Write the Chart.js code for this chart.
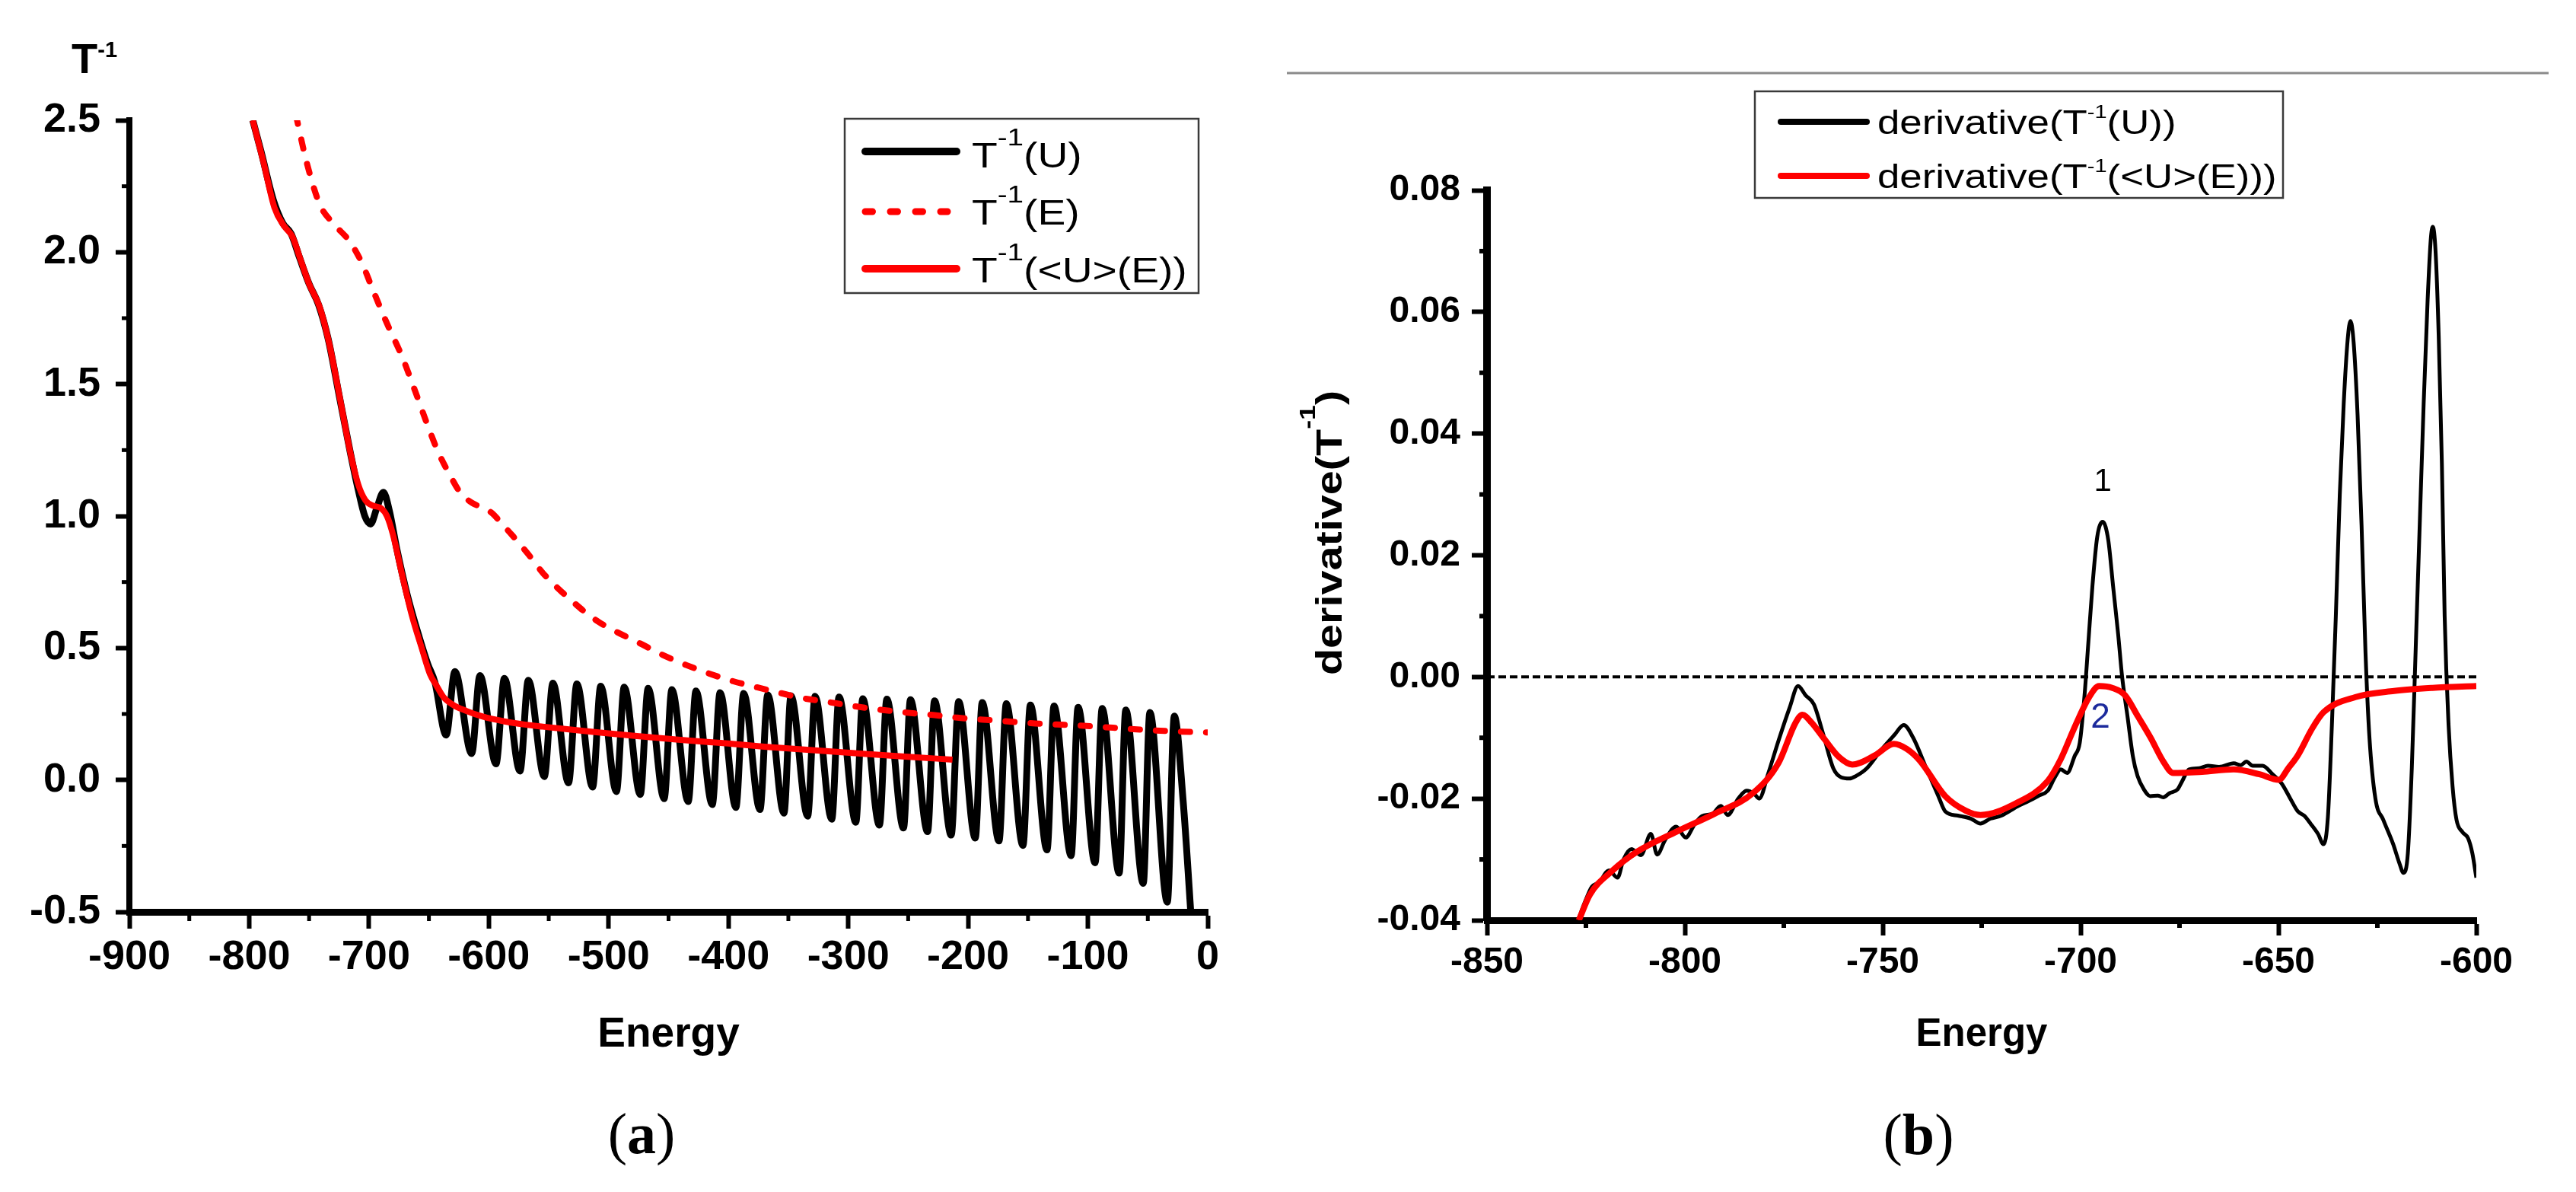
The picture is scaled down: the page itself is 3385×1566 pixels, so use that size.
<!DOCTYPE html>
<html><head><meta charset="utf-8">
<script src="https://cdn.jsdelivr.net/npm/chart.js@4.4.1/dist/chart.umd.min.js"></script>
<style>
html,body{margin:0;padding:0;background:#fff;width:3385px;height:1566px;overflow:hidden}
canvas{position:absolute;top:0}
#ca{left:0}
#cb{left:1690px}
</style></head><body>
<canvas id="ca" width="1690" height="1566"></canvas>
<canvas id="cb" width="1695" height="1566"></canvas>
<script>
// ---------- DATA (Energy, value) ----------
// panel (a): T^-1(U)  (black)
const tInvU = [
[-797,2.50],[-790,2.38],[-780,2.20],[-772,2.11],[-765,2.07],[-758,1.98],[-750,1.88],[-742,1.80],[-734,1.67],[-725,1.46],[-716,1.25],[-709,1.10],[-703.5,1.00],[-698.7,0.97],[-693.5,1.03],[-688,1.09],[-683,1.02],[-677,0.88],[-668,0.70],[-658,0.54],[-651,0.44],[-645,0.37],
[-635.6,0.17],[-628.3,0.411],[-614.3,0.100],[-607.4,0.396],[-594,0.061],[-587,0.385],[-574,0.034],[-567,0.378],[-553.7,0.013],[-546.5,0.367],[-533.5,-0.011],[-526.5,0.364],[-513.4,-0.027],[-506.6,0.355],[-493.5,-0.044],[-487,0.352],[-473.6,-0.055],[-467,0.347],[-453.7,-0.071],[-447.2,0.342],[-433.6,-0.082],[-427.1,0.337],[-413.5,-0.093],[-407,0.331],[-393.8,-0.104],[-387.3,0.328],[-373.7,-0.112],[-367.2,0.323],[-353.7,-0.126],[-347.8,0.319],[-333.9,-0.137],[-327.7,0.317],[-313.8,-0.149],[-307.7,0.314],[-293.7,-0.160],[-287.9,0.308],[-274,-0.171],[-267.8,0.306],[-253.9,-0.182],[-248.1,0.304],[-233.8,-0.196],[-228,0.300],[-214.1,-0.209],[-207.9,0.297],[-194,-0.220],[-188.2,0.293],[-174.2,-0.231],[-168.1,0.289],[-154.2,-0.248],[-148,0.284],[-134.1,-0.265],[-128.3,0.280],[-114,-0.287],[-108.2,0.275],[-94,-0.314],[-88.1,0.271],[-73.9,-0.353],[-68.4,0.265],[-53.8,-0.392],[-48.3,0.256],[-33.7,-0.463],[-27.9,0.242],[-20.5,-0.08],[-13,-0.58]
];
// panel (a): T^-1(E)  (red dashed)
const tInvE = [
[-761,2.52],[-752,2.34],[-741,2.18],[-730,2.11],[-716,2.04],[-706,1.96],[-697,1.86],[-685,1.73],[-672,1.60],[-662,1.48],[-652,1.355],[-642,1.24],[-633,1.16],[-624,1.09],[-614,1.05],[-604,1.03],[-597,1.01],[-589,0.97],[-580,0.925],[-567,0.855],[-555,0.785],[-542,0.725],[-529,0.672],[-518,0.63],[-508,0.598],[-495,0.565],[-474,0.518],[-455,0.474],[-435,0.435],[-416,0.403],[-396,0.374],[-377,0.352],[-358,0.331],[-338,0.31],[-319,0.297],[-296,0.28],[-273,0.266],[-251,0.255],[-231,0.247],[-209,0.236],[-176,0.225],[-144,0.214],[-111,0.207],[-79,0.198],[-47,0.188],[-8,0.181],[0,0.18]
];
// panel (a): T^-1(<U>(E))  (red solid)
const tInvAvg = [
[-797,2.50],[-788,2.34],[-779,2.17],[-771,2.10],[-764,2.06],[-757,1.97],[-750,1.88],[-741,1.79],[-733,1.65],[-724,1.44],[-716,1.25],[-709,1.12],[-703,1.06],[-697,1.04],[-690,1.03],[-685,1.00],[-680,0.93],[-672,0.77],[-664,0.62],[-656,0.50],[-649,0.40],[-644,0.36],[-638,0.315],[-630,0.285],[-619,0.262],[-605,0.24],[-587,0.222],[-570,0.21],[-555,0.202],[-530,0.19],[-510,0.181],[-480,0.168],[-440,0.152],[-400,0.138],[-370,0.126],[-330,0.113],[-290,0.100],[-250,0.088],[-213,0.077]
];
// panel (b): derivative(T^-1(U))  (black)
const derivU = [
[-827,-0.0400],[-825,-0.0366],[-823.5,-0.0345],[-821.6,-0.0337],[-819.2,-0.0318],[-817,-0.0330],[-815.5,-0.0300],[-813.5,-0.0283],[-811.1,-0.0293],[-808.6,-0.0258],[-807,-0.0292],[-805,-0.0268],[-802.2,-0.0246],[-799.8,-0.0264],[-797.5,-0.0242],[-795.7,-0.0229],[-793,-0.0225],[-790.9,-0.0212],[-789.2,-0.0227],[-786.5,-0.0200],[-784.4,-0.0187],[-782.5,-0.0192],[-781.2,-0.0200],[-779,-0.0160],[-776.3,-0.0104],[-773.5,-0.0050],[-771.4,-0.0015],[-769.5,-0.0030],[-767.4,-0.0045],[-765,-0.0095],[-762.5,-0.0150],[-760.5,-0.0165],[-758.4,-0.0167],[-756.8,-0.0163],[-754,-0.0150],[-750.4,-0.0120],[-747,-0.0095],[-744.7,-0.0079],[-742.3,-0.0100],[-739,-0.0150],[-736,-0.0195],[-734.2,-0.0221],[-731,-0.0228],[-727.7,-0.0233],[-725.3,-0.0241],[-722.8,-0.0233],[-720,-0.0228],[-716,-0.0213],[-713.1,-0.0204],[-710.5,-0.0195],[-708.3,-0.0187],[-706.5,-0.0165],[-705,-0.0152],[-703.4,-0.0158],[-701.5,-0.0130],[-700.2,-0.0108],[-699,-0.0030],[-698,0.0060],[-697,0.0150],[-695.8,0.0230],[-694.4,0.0255],[-693,0.0225],[-691.8,0.0150],[-690.5,0.0070],[-689.5,0.0000],[-688.1,-0.0067],[-686.8,-0.0130],[-685.6,-0.0163],[-684,-0.0185],[-682.4,-0.0196],[-680.5,-0.0195],[-679.1,-0.0198],[-677.5,-0.0191],[-675.5,-0.0185],[-674.3,-0.0171],[-672.6,-0.0152],[-670,-0.0150],[-667.8,-0.0146],[-665,-0.0148],[-661.3,-0.0142],[-659.5,-0.0145],[-658.1,-0.0139],[-656.5,-0.0146],[-654,-0.0146],[-651.5,-0.0160],[-649.2,-0.0175],[-647,-0.0200],[-645.1,-0.0221],[-643.5,-0.0228],[-641.9,-0.0241],[-640,-0.0258],[-638.6,-0.0275],[-637.5,-0.0230],[-636.5,-0.0080],[-635.5,0.0100],[-634.5,0.0300],[-633.5,0.0450],[-632.5,0.0555],[-631.8,0.0585],[-631,0.0550],[-630,0.0430],[-629,0.0250],[-628,0.0040],[-627,-0.0100],[-625.5,-0.0200],[-623.5,-0.0235],[-621,-0.0275],[-619.5,-0.0305],[-618.4,-0.0322],[-617.3,-0.0290],[-616.3,-0.0150],[-615.3,0.0050],[-614.3,0.0250],[-613.3,0.0450],[-612.3,0.0620],[-611.5,0.0720],[-611,0.0740],[-610.3,0.0700],[-609.5,0.0560],[-608.7,0.0350],[-608,0.0100],[-607,-0.0080],[-606,-0.0180],[-605,-0.0235],[-603.5,-0.0255],[-602.1,-0.0265],[-601,-0.0290],[-600,-0.0330]
];
// panel (b): derivative(T^-1(<U>(E)))  (red)
const derivAvg = [
[-826.8,-0.0400],[-824,-0.0358],[-818.4,-0.0319],[-812,-0.0287],[-802,-0.0254],[-792.5,-0.0225],[-782.8,-0.0191],[-776.3,-0.0141],[-772,-0.0075],[-770.3,-0.0062],[-768,-0.0075],[-765,-0.0100],[-761,-0.0132],[-757.7,-0.0144],[-752,-0.0129],[-747.2,-0.0110],[-744,-0.0118],[-740.7,-0.0137],[-734.2,-0.0196],[-729,-0.0220],[-725.3,-0.0227],[-716.4,-0.0208],[-708.3,-0.0171],[-705,-0.0135],[-701.8,-0.0087],[-698,-0.0035],[-695.3,-0.0015],[-692,-0.0018],[-688.8,-0.0030],[-685.5,-0.0065],[-682.3,-0.0100],[-679,-0.0140],[-676.6,-0.0158],[-669.3,-0.0156],[-661.3,-0.0152],[-654.8,-0.0160],[-649.9,-0.0169],[-647.5,-0.0150],[-645.1,-0.0129],[-641.5,-0.0085],[-638.6,-0.0058],[-630.5,-0.0033],[-620.8,-0.0023],[-611.1,-0.0018],[-600,-0.0015]
];
// panel (b): zero reference line
const zeroLine = [[-850,0],[-600,0]];
// tick positions
const minorXA = [-850,-750,-650,-550,-450,-350,-250,-150,-50];
const minorYA = [-0.25,0.25,0.75,1.25,1.75,2.25];
const minorXB = [-825,-775,-725,-675,-625];
const minorYB = [-0.03,-0.01,0.01,0.03,0.05,0.07];
// annotations in panel (b)
const peakLabels = [{t:'1', e:-694.4, v:0.0306, color:'#000', size:42},{t:'2', e:-695, v:-0.0083, color:'#1c2a9c', size:46}];

// ---------- helpers ----------
const FONT = "'Liberation Sans', Arial, sans-serif";
const SERIF = "'Liberation Serif', 'Times New Roman', serif";
const toXY = arr => arr.map(p => ({x:p[0], y:p[1]}));

function fontOf(p,o){
  const s = p.sup ? o.size*o.sup : o.size;
  const wt = p.w || o.weight || 'normal';
  return wt + ' ' + s + 'px ' + (o.family || FONT);
}
function rich(ctx, x, y, parts, o){
  ctx.save();
  ctx.translate(x, y);
  if (o.rot) ctx.rotate(o.rot);
  ctx.scale(o.sx || 1, 1);
  ctx.textBaseline = 'alphabetic';
  ctx.textAlign = 'left';
  ctx.fillStyle = o.color || '#000';
  let w = 0;
  for (const p of parts){ ctx.font = fontOf(p,o); w += ctx.measureText(p.t).width; }
  let cx = o.align === 'center' ? -w/2 : 0;
  for (const p of parts){
    ctx.font = fontOf(p,o);
    ctx.fillText(p.t, cx, p.sup ? -o.size*o.rise : 0);
    cx += ctx.measureText(p.t).width;
  }
  ctx.restore();
}
function seg(ctx,x0,y0,x1,y1){ ctx.beginPath(); ctx.moveTo(x0,y0); ctx.lineTo(x1,y1); ctx.stroke(); }
function drawLegend(ctx, L){
  ctx.save();
  ctx.fillStyle = '#fff';
  ctx.fillRect(L.box[0], L.box[1], L.box[2]-L.box[0], L.box[3]-L.box[1]);
  ctx.strokeStyle = '#3a3a3a'; ctx.lineWidth = 2.5;
  ctx.strokeRect(L.box[0], L.box[1], L.box[2]-L.box[0], L.box[3]-L.box[1]);
  for (const it of L.items){
    ctx.strokeStyle = it.color; ctx.lineWidth = it.width; ctx.lineCap = 'round';
    ctx.setLineDash(it.dash || []);
    seg(ctx, it.x0, it.y, it.x1, it.y);
    ctx.setLineDash([]);
    rich(ctx, L.tx, it.base, it.parts, L.font);
  }
  ctx.restore();
}
function axisCommon(min, max, step, fmt, size, pad, tl, bw, fit){
  return {
    type:'linear', min:min, max:max, afterFit: fit,
    ticks:{stepSize:step, autoSkip:false, maxRotation:0, color:'#000', padding:pad,
      font:{family:FONT, weight:'bold', size:size}, callback: fmt},
    grid:{drawOnChartArea:false, drawTicks:true, tickLength:tl, tickWidth:6, tickColor:'#000'},
    border:{display:true, color:'#000', width:bw}
  };
}

// ---------- panel (a) ----------
const decoA = { id:'decoA', afterDraw(chart){
  const ctx = chart.ctx, a = chart.chartArea, xs = chart.scales.x, ys = chart.scales.y;
  ctx.save();
  ctx.strokeStyle = '#000'; ctx.lineWidth = 5; ctx.lineCap = 'butt';
  for (const v of minorXA){ const x = xs.getPixelForValue(v); seg(ctx, x, a.bottom, x, a.bottom+12); }
  for (const v of minorYA){ const y = ys.getPixelForValue(v); seg(ctx, a.left-10, y, a.left, y); }
  rich(ctx, 94, 96, [{t:'T'},{t:'-1',sup:true}], {size:56, weight:'bold', sup:0.52, rise:0.375});
  ctx.fillStyle = '#000'; ctx.textAlign = 'center'; ctx.textBaseline = 'alphabetic';
  ctx.font = 'bold 55px ' + FONT;
  ctx.fillText('Energy', (a.left+a.right)/2, 1375);
  rich(ctx, 843, 1515, [{t:'('},{t:'a',w:'bold'},{t:')'}], {size:76, family:SERIF, align:'center'});
  drawLegend(ctx, {
    box:[1110,156,1575,385], tx:1277,
    font:{size:46, sup:0.7, rise:0.62, sx:1.2},
    items:[
      {color:'#000', width:10, x0:1137, x1:1257, y:199, base:220, parts:[{t:'T'},{t:'-1',sup:true},{t:'(U)'}]},
      {color:'#ff0000', width:9, dash:[9.5,23.5], x0:1137, x1:1245, y:278, base:295, parts:[{t:'T'},{t:'-1',sup:true},{t:'(E)'}]},
      {color:'#ff0000', width:10, x0:1137, x1:1257, y:353, base:371, parts:[{t:'T'},{t:'-1',sup:true},{t:'(<U>(E))'}]}
    ]});
  ctx.restore();
}};

new Chart(document.getElementById('ca'), {
  type:'scatter',
  data:{datasets:[
    {label:'T-1(<U>(E))', data:toXY(tInvAvg), showLine:true, borderColor:'#ff0000', borderWidth:8, pointRadius:0, cubicInterpolationMode:'monotone', order:1},
    {label:'T-1(E)', data:toXY(tInvE), showLine:true, borderColor:'#ff0000', borderWidth:8, borderDash:[12,21], borderCapStyle:'round', pointRadius:0, cubicInterpolationMode:'monotone', order:2},
    {label:'T-1(U)', data:toXY(tInvU), showLine:true, borderColor:'#000000', borderWidth:9, pointRadius:0, cubicInterpolationMode:'monotone', order:3}
  ]},
  options:{
    responsive:false, devicePixelRatio:1, animation:false, events:[],
    layout:{padding:{left:20, top:158, right:103, bottom:248}},
    plugins:{legend:{display:false}, tooltip:{enabled:false}},
    scales:{
      x: Object.assign(axisCommon(-900, 0, 100, v => String(v), 54, 6, 22, 9, s => { s.height = 120; }), {position:'bottom'}),
      y: Object.assign(axisCommon(-0.5, 2.5, 0.5, v => Number(v).toFixed(1), 54, 20, 18, 8, s => { s.width = 150; }), {position:'left'})
    }
  },
  plugins:[decoA]
});

// ---------- panel (b) ----------
const OFF = 1690;
const decoB = { id:'decoB', afterDraw(chart){
  const ctx = chart.ctx, a = chart.chartArea, xs = chart.scales.x, ys = chart.scales.y;
  ctx.save();
  ctx.strokeStyle = '#000'; ctx.lineWidth = 6; ctx.lineCap = 'butt';
  for (const v of minorXB){ const x = xs.getPixelForValue(v); seg(ctx, x, a.bottom, x, a.bottom+10); }
  for (const v of minorYB){ const y = ys.getPixelForValue(v); seg(ctx, a.left-10, y, a.left, y); }
  // top rule
  ctx.strokeStyle = '#8a8a8a'; ctx.lineWidth = 3;
  seg(ctx, 1691-OFF, 96, 3349-OFF, 96);
  // peak labels
  ctx.textAlign = 'center'; ctx.textBaseline = 'alphabetic';
  for (const p of peakLabels){
    ctx.fillStyle = p.color; ctx.font = p.size + 'px ' + FONT;
    ctx.fillText(p.t, xs.getPixelForValue(p.e), ys.getPixelForValue(p.v));
  }
  ctx.fillStyle = '#000'; ctx.font = 'bold 51px ' + FONT;
  ctx.fillText('Energy', (a.left+a.right)/2, 1374);
  rich(ctx, 2521-OFF, 1516, [{t:'('},{t:'b',w:'bold'},{t:')'}], {size:76, family:SERIF, align:'center'});
  rich(ctx, 1763-OFF, 700, [{t:'derivative(T'},{t:'-1',sup:true},{t:')'}], {size:48, weight:'bold', sup:0.62, rise:0.72, sx:1.2, rot:-Math.PI/2, align:'center'});
  drawLegend(ctx, {
    box:[2306-OFF,120,3000-OFF,260], tx:2467-OFF,
    font:{size:44, sup:0.55, rise:0.47, sx:1.2},
    items:[
      {color:'#000', width:8, x0:2340-OFF, x1:2453-OFF, y:160, base:176, parts:[{t:'derivative(T'},{t:'-1',sup:true},{t:'(U))'}]},
      {color:'#ff0000', width:8, x0:2340-OFF, x1:2453-OFF, y:231, base:247, parts:[{t:'derivative(T'},{t:'-1',sup:true},{t:'(<U>(E)))'}]}
    ]});
  ctx.restore();
}};

new Chart(document.getElementById('cb'), {
  type:'scatter',
  data:{datasets:[
    {label:'derivative(T-1(<U>(E)))', data:toXY(derivAvg), showLine:true, borderColor:'#ff0000', borderWidth:8, pointRadius:0, cubicInterpolationMode:'monotone', order:1},
    {label:'derivative(T-1(U))', data:toXY(derivU), showLine:true, borderColor:'#000000', borderWidth:5, pointRadius:0, cubicInterpolationMode:'monotone', order:2},
    {label:'zero', data:toXY(zeroLine), showLine:true, borderColor:'#000000', borderWidth:4, borderDash:[10,5], pointRadius:0, order:3}
  ]},
  options:{
    responsive:false, devicePixelRatio:1, animation:false, events:[],
    layout:{padding:{left:114, top:250, right:131, bottom:237}},
    plugins:{legend:{display:false}, tooltip:{enabled:false}},
    scales:{
      x: Object.assign(axisCommon(-850, -600, 50, v => String(v), 48, 7, 20, 9, s => { s.height = 120; }), {position:'bottom'}),
      y: Object.assign(axisCommon(-0.04, 0.08, 0.02, v => Number(v).toFixed(2), 48, 15, 20, 10, s => { s.width = 150; }), {position:'left'})
    }
  },
  plugins:[decoB]
});
</script>
</body></html>
